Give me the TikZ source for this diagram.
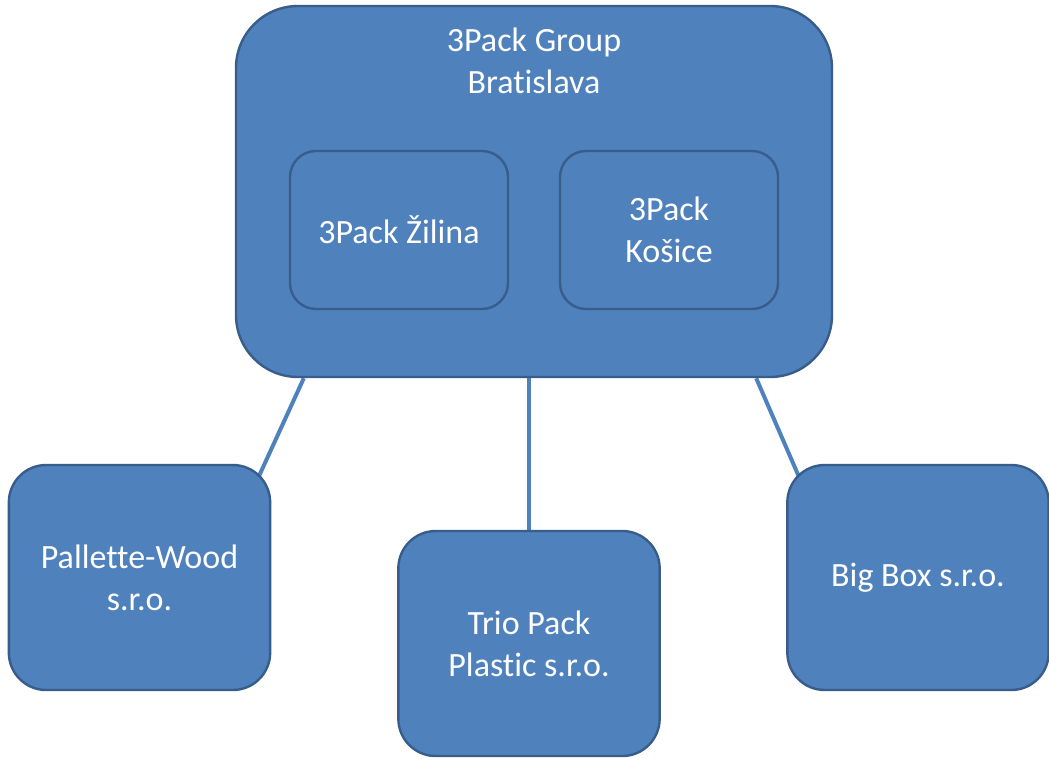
\documentclass[tikz,border=0pt]{standalone}
\usepackage{fontspec}
\setmainfont{Carlito}[Ligatures=NoCommon]
\usetikzlibrary{calc,backgrounds}
\definecolor{boxfill}{HTML}{4F81BD}
\definecolor{boxedge}{HTML}{385D8A}
\begin{document}
\begin{tikzpicture}[x=0.75pt,y=-0.75pt,
  box/.style={draw=boxedge,fill=boxfill,line width=1.8pt,text=white,
    align=center,inner sep=0pt,font=\fontsize{25.5pt}{31.5pt}\selectfont},
  bigbox/.style={box,minimum width=447pt,minimum height=278.25pt,rounded corners=46.5pt},
  unitbox/.style={box,minimum width=163.5pt,minimum height=118.5pt,rounded corners=19.5pt},
  firmbox/.style={box,minimum width=196pt,minimum height=168.75pt,rounded corners=28pt},
  link/.style={draw=boxfill,line width=3pt},
  caption/.style={text=white,align=center,inner sep=0pt,font=\fontsize{25.5pt}{31.5pt}\selectfont}]
\useasboundingbox (0,0) rectangle (1049,761);

% parent company and its branches
\node[bigbox] (group) at (534,191.5) {};
\node[caption] (grouptext) at (534,61) {3Pack Group\\Bratislava};
\node[unitbox] (zilina) at (399,230) {3Pack Žilina};
\node[unitbox] (kosice) at (669,230) {3Pack\\Košice};

% subsidiaries
\node[firmbox] (pallette) at (139.5,577.5) {Pallette-Wood\\s.r.o.};
\node[firmbox] (trio) at (529,643.5) {Trio Pack\\Plastic s.r.o.};
\node[firmbox] (bigbox) at (918,577.5) {Big Box s.r.o.};

% connectors run behind the boxes
\begin{scope}[on background layer]
  \coordinate (lA) at ($(group.south west)+(69,0)$);
  \coordinate (lB) at ($(pallette.north east)+(-15,18)$);
  \coordinate (rA) at ($(group.south east)+(-77,0)$);
  \coordinate (rB) at ($(bigbox.north west)+(15,18)$);
  \coordinate (cA) at (group.south -| trio.north);
  \draw[link] (lA) -- (lB);
  \draw[link] (cA) -- (trio.north);
  \draw[link] (rA) -- (rB);
\end{scope}
\end{tikzpicture}
\end{document}
